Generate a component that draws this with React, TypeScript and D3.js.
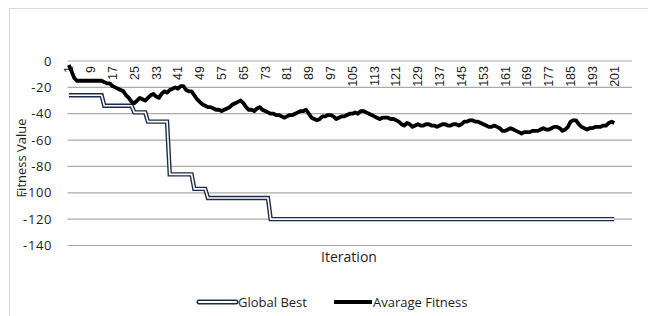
import React from 'react';
import * as d3 from 'd3';

// iterations on the category axis (axis runs a little past the data)
const categories = d3.range(1, 208);
const tickLabels = categories.filter(c => (c - 1) % 8 === 0);
const yTicks = [0, -20, -40, -60, -80, -100, -120, -140];

// Avarage Fitness, iterations 1..201
const avgFitness = [
  -3, -8, -13, -15, -15, -15, -15, -15, -15, -15,
  -15, -15, -15, -16, -17, -17, -19, -20, -21, -22,
  -23, -26, -28, -31, -32, -30, -28, -29, -30, -28,
  -26, -25, -27, -28, -25, -23, -24, -22, -21, -20,
  -21, -19, -19, -22, -23, -23, -26, -29, -31, -33,
  -34, -35, -35, -36, -37, -37, -38, -37, -36, -35,
  -33, -32, -31, -30, -32, -35, -37, -37, -38, -36,
  -35, -37, -38, -39, -40, -40, -41, -41, -42, -43,
  -42, -41, -41, -40, -39, -38, -38, -37, -40, -43,
  -44, -45, -44, -42, -42, -41, -41, -42, -44, -43,
  -42, -42, -41, -40, -40, -39, -40, -38, -38, -39,
  -40, -41, -42, -43, -44, -43, -43, -43, -44, -44,
  -45, -46, -48, -49, -47, -48, -50, -49, -48, -49,
  -49, -48, -48, -49, -49, -50, -49, -48, -48, -49,
  -49, -48, -48, -49, -48, -46, -46, -45, -45, -46,
  -46, -47, -48, -49, -50, -50, -49, -50, -51, -53,
  -53, -52, -51, -52, -53, -54, -55, -54, -54, -54,
  -53, -53, -53, -52, -51, -52, -52, -51, -50, -50,
  -51, -53, -52, -50, -46, -45, -45, -48, -50, -51,
  -52, -51, -51, -50, -50, -50, -49, -49, -47, -46,
  -47,
];

// Global Best as runs: level held for n iterations
const gbLevels = [-26, -34, -39, -46, -86, -97, -104, -120];
const gbRuns = [13, 11, 5, 8, 9, 5, 23, 127];
const globalBest: number[] = gbLevels.flatMap((v, i) => Array(gbRuns[i]).fill(v));

const W = 648;
const H = 316;
const font = '"Open Sans", "Liberation Sans", sans-serif';
const narrow = '"Liberation Sans Narrow", "Arial Narrow", "Liberation Sans", sans-serif';
const textColor = '#1e1e1e';
const gridColor = '#ababab';
const navy = '#1d2b4a';

export default function App() {
  const x = d3.scaleBand<number>().domain(categories).range([67.5, 632]);
  const cx = (c: number) => (x(c) ?? 0) + x.bandwidth() / 2;
  const y = d3.scaleLinear().domain([-140, 0]).range([245.5, 61]);

  const line = d3
    .line<number>()
    .x((_, i) => cx(categories[i]))
    .y(d => y(d));

  const gbPath = line(globalBest) || '';
  const avgPath = line(avgFitness) || '';

  return (
    <svg
      width={W}
      height={H}
      style={{ position: 'absolute', left: 0, top: 0, background: '#fff' }}
    >
      <rect x={9.5} y={8.5} width={700} height={400} fill="#fff" stroke="#d9d9d9" />

      {/* gridlines */}
      {yTicks.map(t => (
        <line
          key={t}
          x1={67.5}
          x2={632}
          y1={y(t)}
          y2={y(t)}
          stroke={gridColor}
          strokeWidth={1.2}
        />
      ))}

      {/* y tick labels */}
      {yTicks.map(t => (
        <text
          key={'l' + t}
          x={52}
          y={y(t)}
          dy="0.35em"
          textAnchor="end"
          fontFamily={font}
          fontSize={13}
          letterSpacing={0.6}
          fill={textColor}
        >
          {t}
        </text>
      ))}

      {/* category labels, rotated, under the 0 line */}
      {tickLabels.map(c => (
        <text
          key={'c' + c}
          transform={`translate(${cx(c)},${y(0) + 5}) rotate(-90)`}
          dy="0.35em"
          textAnchor="end"
          fontFamily={narrow}
          fontSize={12.5}
          fill={textColor}
        >
          {c}
        </text>
      ))}

      {/* Global Best: double line */}
      <path d={gbPath} fill="none" stroke={navy} strokeWidth={4.4} strokeLinejoin="miter" />
      <path d={gbPath} fill="none" stroke="#fff" strokeWidth={1.6} strokeLinejoin="miter" />

      {/* Avarage Fitness */}
      <path d={avgPath} fill="none" stroke="#000" strokeWidth={3.8} strokeLinejoin="round" />

      {/* axis titles */}
      <text
        x={349}
        y={262}
        textAnchor="middle"
        fontFamily={font}
        fontSize={14}
        fill={textColor}
      >
        Iteration
      </text>
      <text
        transform={`translate(21,${158}) rotate(-90)`}
        dy="0.35em"
        textAnchor="middle"
        fontFamily={font}
        fontSize={13}
        fill={textColor}
      >
        Fitness Value
      </text>

      {/* legend */}
      <g>
        <line x1={199} x2={236} y1={302} y2={302} stroke={navy} strokeWidth={5} strokeLinecap="round" />
        <line x1={199} x2={236} y1={302} y2={302} stroke="#fff" strokeWidth={2} strokeLinecap="round" />
        <text x={238} y={302} dy="0.35em" fontFamily={font} fontSize={13} fill={textColor}>
          Global Best
        </text>
        <line x1={334} x2={372} y1={302} y2={302} stroke="#000" strokeWidth={4} />
        <text x={373} y={302} dy="0.35em" fontFamily={font} fontSize={13} fill={textColor}>
          Avarage Fitness
        </text>
      </g>
    </svg>
  );
}
